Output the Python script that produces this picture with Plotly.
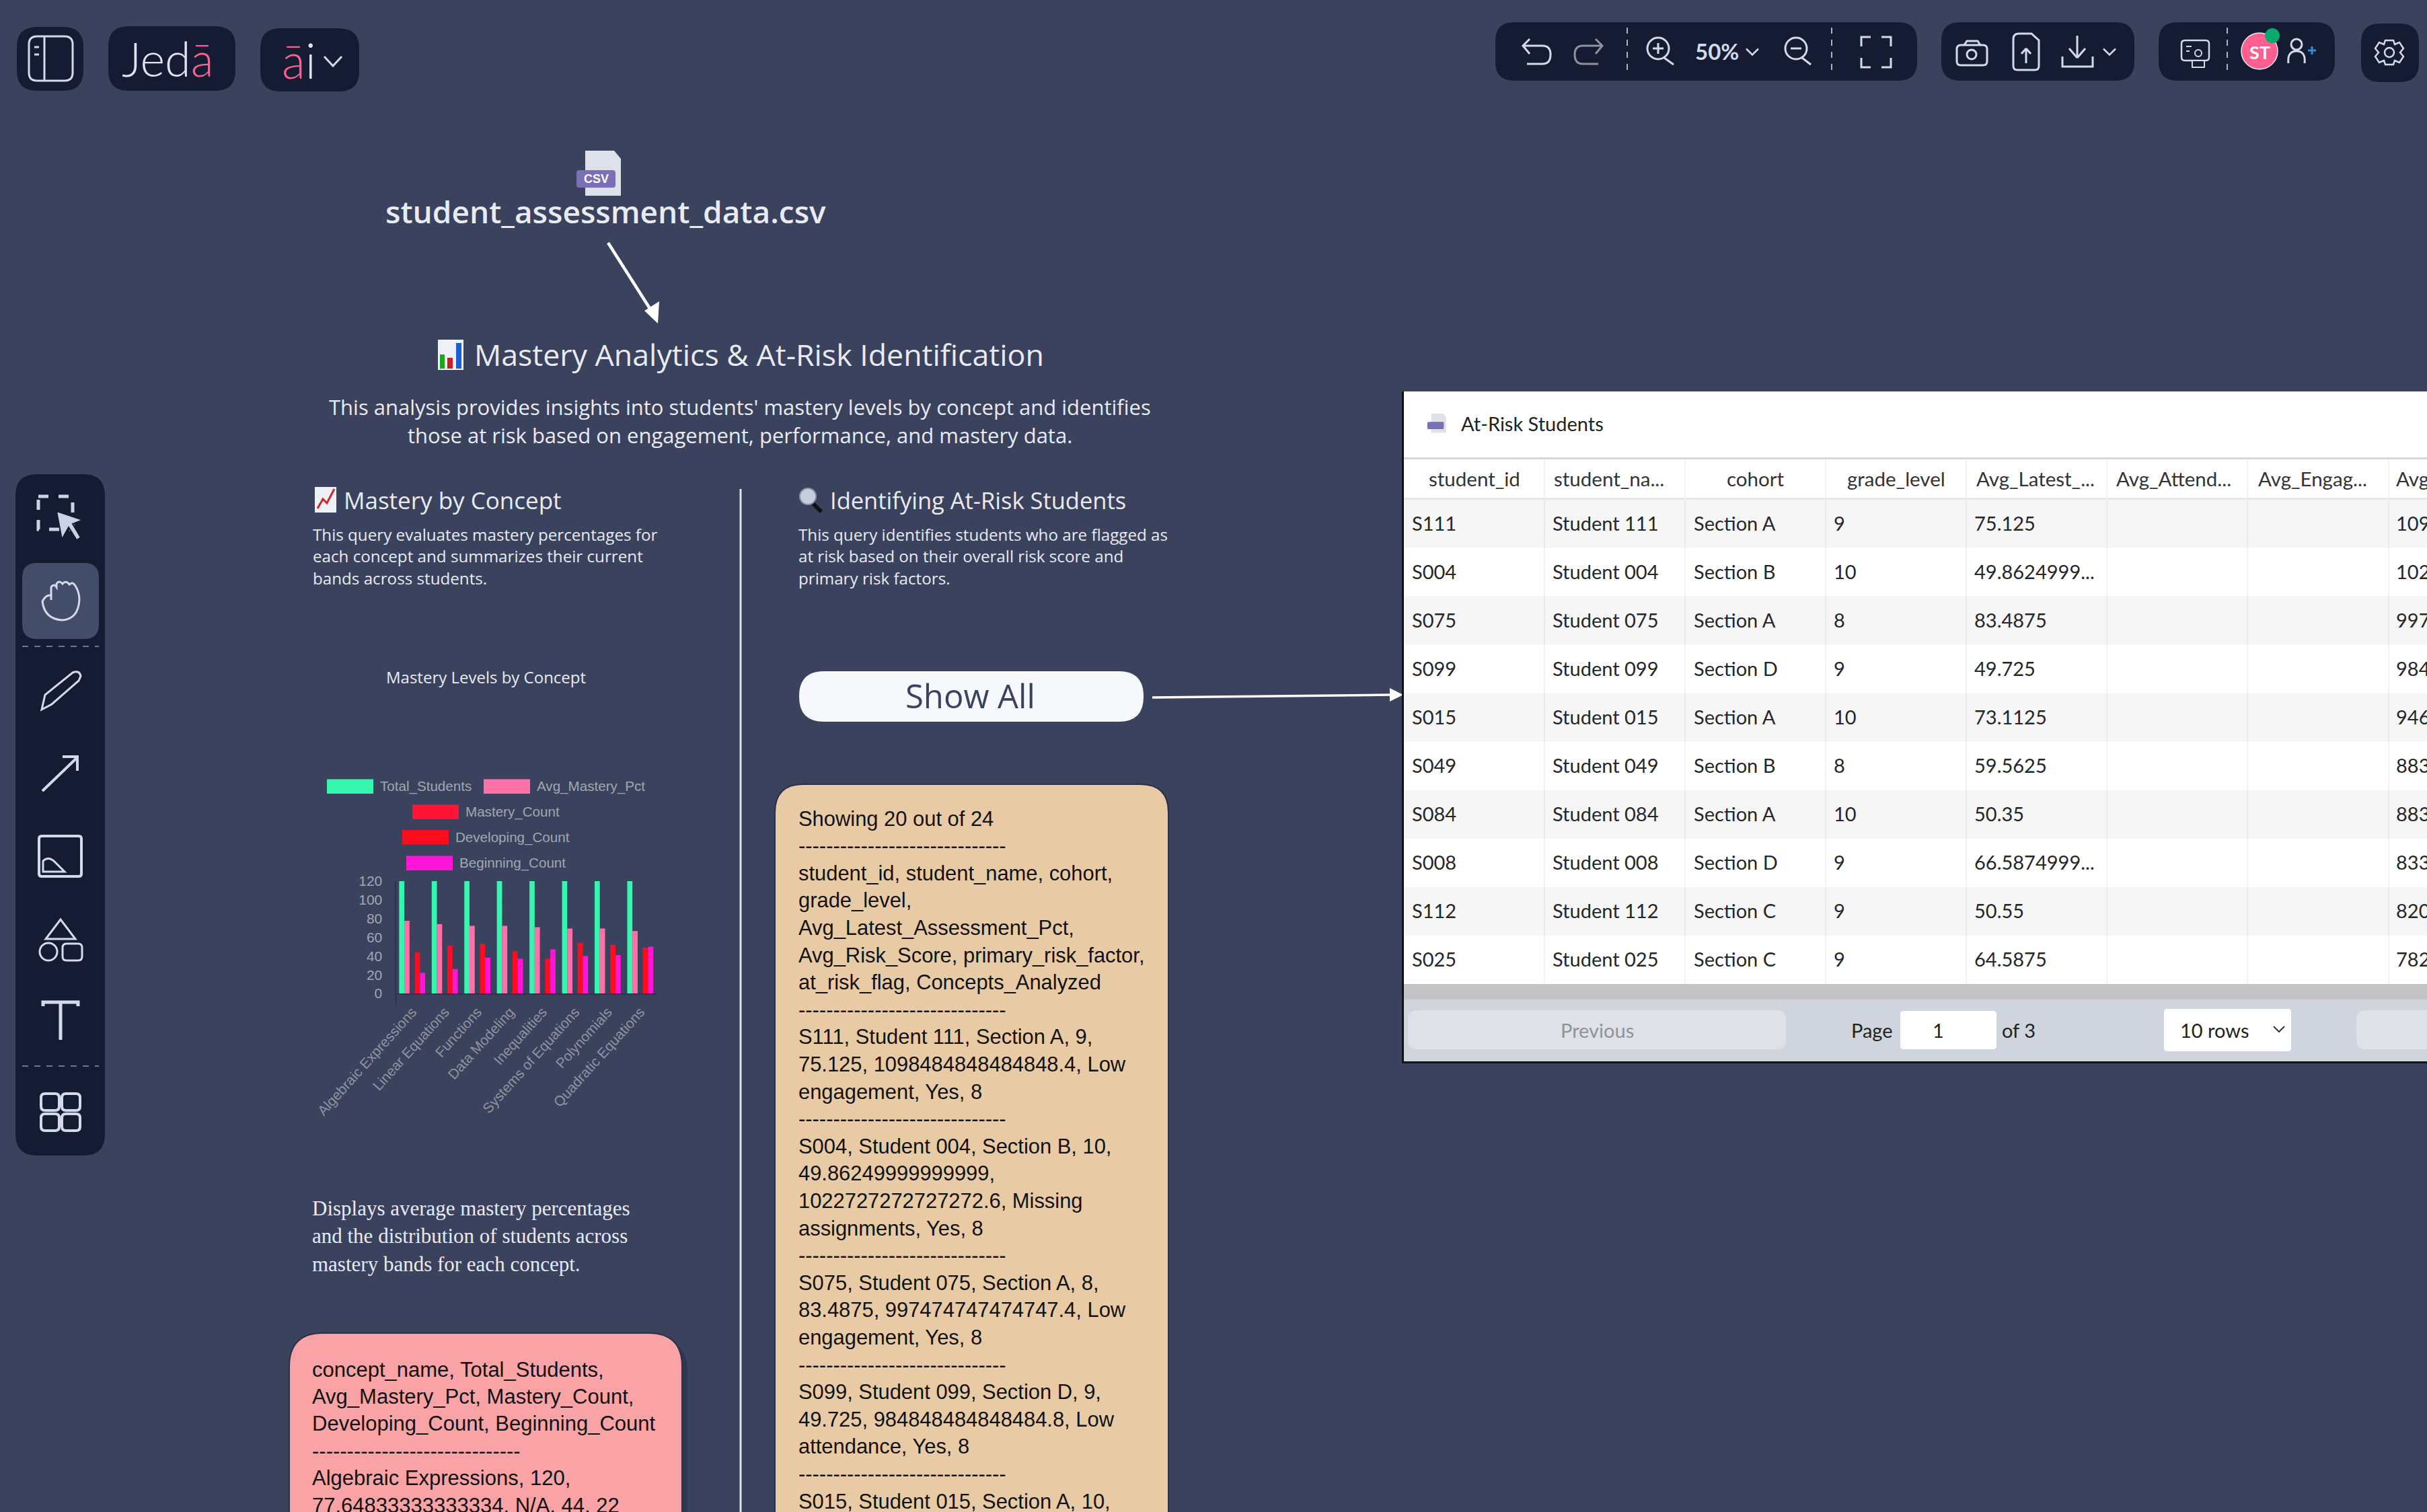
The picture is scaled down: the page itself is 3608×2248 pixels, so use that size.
import plotly.graph_objs as go

W = 3608
H = 2248

BG = "#3a425d"
DARK = "#151b32"
ICON = "#d3daea"

concepts = ["Algebraic Expressions", "Linear Equations", "Functions", "Data Modeling", "Inequalities",
            "Systems of Equations", "Polynomials", "Quadratic Equations"]
total_students = [120, 120, 120, 120, 120, 120, 120, 120]
avg_mastery_pct = [77.65, 74, 72.2, 72.2, 70.8, 69.3, 69.3, 66.7]
mastery_count = [None, None, None, None, None, None, None, None]
developing_count = [44, 51, 53, 45, 37, 54, 52, 49]
beginning_count = [22, 26, 38, 37, 47, 40, 41, 50]

series_names = ["Total_Students", "Avg_Mastery_Pct", "Mastery_Count", "Developing_Count", "Beginning_Count"]
series_colors = ["#36f5ae", "#ff70a8", "#ff1436", "#ff0d1f", "#ff14d8"]

table_headers = ["student_id", "student_na...", "cohort", "grade_level", "Avg_Latest_...", "Avg_Attend...",
                 "Avg_Engag..."]
header_nudge = [0, -9, 0, 0, -2, -5, -8]
student_ids = ["S111", "S004", "S075", "S099", "S015", "S049", "S084", "S008", "S112", "S025"]
student_names = ["Student 111", "Student 004", "Student 075", "Student 099", "Student 015", "Student 049",
                 "Student 084", "Student 008", "Student 112", "Student 025"]
cohorts = ["Section A", "Section B", "Section A", "Section D", "Section A", "Section B", "Section A",
           "Section D", "Section C", "Section C"]
grades = ["9", "10", "8", "9", "10", "8", "10", "9", "9", "9"]
latest_pct = ["75.125", "49.8624999...", "83.4875", "49.725", "73.1125", "59.5625", "50.35", "66.5874999...",
              "50.55", "64.5875"]
risk_clipped = ["109", "102", "997", "984", "946", "883", "883", "833", "820", "782"]

DASHES = "------------------------------"
tan_lines = ["Showing 20 out of 24", DASHES,
             "student_id, student_name, cohort,", "grade_level,", "Avg_Latest_Assessment_Pct,",
             "Avg_Risk_Score, primary_risk_factor,", "at_risk_flag, Concepts_Analyzed", DASHES,
             "S111, Student 111, Section A, 9,", "75.125, 1098484848484848.4, Low", "engagement, Yes, 8", DASHES,
             "S004, Student 004, Section B, 10,", "49.86249999999999,", "1022727272727272.6, Missing",
             "assignments, Yes, 8", DASHES,
             "S075, Student 075, Section A, 8,", "83.4875, 997474747474747.4, Low", "engagement, Yes, 8", DASHES,
             "S099, Student 099, Section D, 9,", "49.725, 984848484848484.8, Low", "attendance, Yes, 8", DASHES,
             "S015, Student 015, Section A, 10,"]
pink_lines = ["concept_name, Total_Students,", "Avg_Mastery_Pct, Mastery_Count,",
              "Developing_Count, Beginning_Count", DASHES, "Algebraic Expressions, 120,",
              "77.64833333333334, N/A, 44, 22"]

shapes = []
annotations = []


def rr(x0, y0, x1, y1, r):
    return (f"M{x0+r},{y0} L{x1-r},{y0} Q{x1},{y0} {x1},{y0+r} L{x1},{y1-r} Q{x1},{y1} {x1-r},{y1} "
            f"L{x0+r},{y1} Q{x0},{y1} {x0},{y1-r} L{x0},{y0+r} Q{x0},{y0} {x0+r},{y0} Z")


def path(d, fill=None, color=None, width=3, dash=None):
    line = dict(color=color or "rgba(0,0,0,0)", width=width if color else 0)
    if dash:
        line["dash"] = dash
    shapes.append(dict(type="path", xref="x2", yref="y2", path=d, fillcolor=fill or "rgba(0,0,0,0)", line=line))


def box(x0, y0, x1, y1, fill, r=0, color=None, width=1):
    if r:
        path(rr(x0, y0, x1, y1, r), fill=fill, color=color, width=width)
    else:
        shapes.append(dict(type="rect", xref="x2", yref="y2", x0=x0, y0=y0, x1=x1, y1=y1, fillcolor=fill,
                           line=dict(color=color or "rgba(0,0,0,0)", width=width if color else 0)))


def seg(x0, y0, x1, y1, color=ICON, width=3, dash=None):
    path(f"M{x0},{y0} L{x1},{y1}", color=color, width=width, dash=dash)


def circle(cx, cy, r, fill=None, color=None, width=3):
    shapes.append(dict(type="circle", xref="x2", yref="y2", x0=cx - r, y0=cy - r, x1=cx + r, y1=cy + r,
                       fillcolor=fill or "rgba(0,0,0,0)",
                       line=dict(color=color or "rgba(0,0,0,0)", width=width if color else 0)))


def text(x, y, s, size, color="#e8ebf2", family="Open Sans", anchor="left", weight=None):
    font = dict(size=size, color=color, family=family)
    if weight:
        font["weight"] = weight
    annotations.append(dict(x=x, y=y, xref="x2", yref="y2", text=s, showarrow=False, xanchor=anchor,
                            yanchor="middle", font=font, borderpad=0, align=anchor))


def chevron(cx, cy, w=9, h=9, color=ICON, width=2.5):
    path(f"M{cx-w},{cy-h/2} L{cx},{cy+h/2} L{cx+w},{cy-h/2}", color=color, width=width)


def csv_icon(x0, y0, s):
    path(f"M{x0+13*s},{y0} L{x0+56*s},{y0} L{x0+66*s},{y0+12*s} L{x0+66*s},{y0+67*s} L{x0+13*s},{y0+67*s} Z",
         fill="#dde1ea")
    box(x0, y0 + 29 * s, x0 + 58 * s, y0 + 55 * s, "#7b6fb5", r=4 * s)


# top left buttons
box(25, 40, 124, 135, DARK, r=30)
box(161, 39, 350, 135, DARK, r=30)
box(387, 42, 534, 136, DARK, r=30)
box(43, 54, 108, 120, None, r=12, color=ICON, width=3)
seg(66, 54, 66, 120)
seg(51, 70, 58, 70)
seg(51, 81, 58, 81)
text(180, 87, "Jed<span style='color:#ff5f8f'>ā</span>", 70, color="#dfe4ee", family="Lato", weight=300)
text(418, 89, "<span style='color:#ff5f8f'>ā</span>i", 72, color="#dfe4ee", family="Lato", weight=300)
chevron(495, 91, w=13, h=14, width=3)

# top right panels
box(2223, 33, 2850, 120, DARK, r=28)
box(2886, 33, 3173, 120, DARK, r=28)
box(3209, 33, 3471, 120, DARK, r=28)
box(3510, 35, 3596, 122, DARK, r=28)
for sx in [2419, 2723, 3311]:
    seg(sx, 41, sx, 113, color="#aab2c4", width=2, dash="dash")
path("M2274,58 L2264,68 L2274,80 M2264,68 L2293,68 Q2305,68 2305,81 Q2305,95 2293,95 L2270,95", color=ICON)
path("M2372,58 L2382,68 L2372,80 M2382,68 L2353,68 Q2341,68 2341,81 Q2341,95 2353,95 L2376,95", color="#8d929c")
circle(2465, 72, 16, color=ICON)
seg(2457, 72, 2473, 72)
seg(2465, 64, 2465, 80)
seg(2474, 86, 2488, 96)
text(2552, 76, "50%", 33, color=ICON, family="Lato", anchor="center", weight=700)
chevron(2605, 77)
circle(2670, 72, 16, color=ICON)
seg(2662, 72, 2678, 72)
seg(2679, 86, 2692, 96)
path("M2767,69 L2767,55 L2781,55 M2797,55 L2811,55 L2811,69 M2811,86 L2811,100 L2797,100 M2781,100 L2767,100 L2767,86",
     color=ICON)
path(rr(2909, 67, 2954, 97, 6), color=ICON)
path("M2920,67 L2924,61 L2940,61 L2944,67", color=ICON)
circle(2931, 81, 7, color=ICON)
path("M2993,58 Q2993,50 3001,50 L3020,50 L3031,60 L3031,98 Q3031,104 3025,104 L2999,104 Q2993,104 2993,98 Z",
     color=ICON)
path("M3012,94 L3012,72 M3005,80 L3012,72 M3019,80 L3012,72", color=ICON)
path("M3088,53 L3088,86 M3076,72 L3088,86 M3100,72 L3088,86", color=ICON)
path("M3066,84 L3066,99 L3111,99 L3111,84", color=ICON)
chevron(3136, 77)
path(rr(3243, 60, 3284, 90, 5), color=ICON, width=2.5)
circle(3268, 79, 5, color=ICON, width=2)
path("M3259,100 L3259,90 L3277,90 L3277,100 Z", fill=DARK, color=ICON, width=2)
seg(3250, 69, 3258, 69, width=2)
seg(3250, 76, 3255, 76, width=2)
circle(3359, 76, 27, fill="#fe5f8e", color="#e8ebf2", width=1.5)
text(3359, 77, "ST", 27, color="#ffffff", family="Lato", anchor="center", weight=700)
circle(3378, 53, 11, fill="#0aa96e")
circle(3414, 66, 8, color=ICON)
path("M3402,94 Q3400,76 3414,76 Q3428,76 3426,94", color=ICON)
seg(3431, 75, 3443, 75, color="#2f8fd8")
seg(3437, 69, 3437, 81, color="#2f8fd8")
path("M3546,60 L3558,60 L3560,66 L3567,63 L3573,72 L3568,78 L3573,84 L3567,93 L3560,90 L3558,96 L3546,96 "
     "L3544,90 L3537,93 L3531,84 L3536,78 L3531,72 L3537,63 L3544,66 Z", color=ICON, width=2.5)
circle(3552, 78, 7, color=ICON, width=2.5)

# left tool bar
box(23, 705, 156, 1718, DARK, r=32)
box(33, 837, 147, 950, "#434c68", r=22)
seg(33, 961, 147, 961, color="#6f7790", width=2, dash="dash")
seg(33, 1585, 147, 1585, color="#6f7790", width=2, dash="dash")
path("M57,738 L108,738 L108,787 L57,787 Z", color="#c9d3e6", width=5, dash="dash")
path("M84,760 L123,773 L108,779 L120,799 L114,803 L102,784 L92,802 Z", fill="#c9d3e6", color=DARK, width=2)
path("M76,885 L76,873 Q80,867 84,873 L84,868 Q88,862 93,868 Q98,862 103,869 Q108,864 112,871 Q118,880 118,892 "
     "Q116,921 92,922 Q66,920 63,894 Q68,884 76,885 L76,892", color=ICON)
path("M62,1055 L67,1033 L108,1000 Q118,996 120,1005 L117,1012 L77,1047 Z", color=ICON)
path("M63,1176 L115,1126 M93,1125 L115,1125 L115,1146", color=ICON, width=4)
path(rr(58, 1243, 121, 1303, 4), color=ICON, width=4)
path("M64,1296 L64,1280 Q72,1272 82,1282 L96,1296 Z", color=ICON, width=3)
path("M90,1367 L112,1396 L68,1396 Z", color=ICON)
circle(72, 1415, 13, color=ICON)
path(rr(93, 1403, 122, 1428, 6), color=ICON)
path("M64,1496 L64,1490 L116,1490 L116,1496 M90,1490 L90,1546", color=ICON, width=5)
for gx, gy in [(61, 1626), (92, 1626), (61, 1656), (92, 1656)]:
    path(rr(gx, gy, gx + 27, gy + 25, 6), color=ICON, width=4)

# file node and first arrow
csv_icon(857, 224, 1)
text(886, 266, "CSV", 18, color="#ffffff", family="Liberation Sans", anchor="center", weight=700)
text(900, 314, "student_assessment_data.csv", 46, weight=600, anchor="center")
seg(904, 361, 972, 468, color="#ffffff", width=4.5)
path("M978,481 L958,462 L980,448 Z", fill="#ffffff")

# report heading
box(651, 505, 689, 550, "#eef1f6")
box(654, 527, 661, 548, "#1ea51e")
box(665, 532, 673, 548, "#c81e1e")
box(678, 510, 686, 548, "#1e5fd0")
text(704, 526, "Mastery Analytics &amp; At-Risk Identification", 44.7)
text(1100, 605, "This analysis provides insights into students' mastery levels by concept and identifies", 31,
     anchor="center")
text(1100, 647, "those at risk based on engagement, performance, and mastery data.", 31, anchor="center")

# left column heading
box(468, 724, 500, 762, "#eef1f6")
path("M472,756 L480,742 L486,748 L497,727", color="#d02828", width=3)
text(510, 743, "Mastery by Concept", 35)
for i, s in enumerate(["This query evaluates mastery percentages for", "each concept and summarizes their current",
                       "bands across students."]):
    text(464, 794 + 32.5 * i, s, 24.2)
seg(1101, 727, 1101, 2248, color="#dfe3ea", width=3)

# right column heading
circle(1201, 738, 12, fill="#c6cedd", color="#8d94a5", width=2)
seg(1209, 749, 1221, 761, color="#111111", width=6)
text(1233, 743, "Identifying At-Risk Students", 34.5)
for i, s in enumerate(["This query identifies students who are flagged as", "at risk based on their overall risk score and",
                       "primary risk factors."]):
    text(1186, 794 + 32.5 * i, s, 24.2)
text(722, 1006, "Mastery Levels by Concept", 24, anchor="center")

# button and arrow to the table
box(1188, 998, 1700, 1073, "#f6f8fc", r=37)
text(1442, 1034, "Show All", 49, color="#39425e", anchor="center")
seg(1713, 1037, 2068, 1033, color="#ffffff", width=3.5)
path("M2086,1033 L2066,1023 L2066,1043 Z", fill="#ffffff")

# chart legend, wrapped the way the source chart does it
legend_rows = [(486, 1158.6, 0), (719, 1158.6, 1), (613, 1196.4, 2), (598, 1234, 3), (604, 1272.5, 4)]
for lx, ly, k in legend_rows:
    box(lx, ly, lx + 69, ly + 21.5, series_colors[k])
    text(lx + 78, ly + 10.5, series_names[k], 20.6, color="#a3a7b2", family="Liberation Sans")

# chart axis foot
seg(588.5, 1477, 588.5, 1495, color="#2c3350", width=2)

# note under the chart
for i, s in enumerate(["Displays average mastery percentages", "and the distribution of students across",
                       "mastery bands for each concept."]):
    text(463, 1796 + 41.5 * i, s, 31, color="#e6eaf5", family="Liberation Serif")

# pink result card
box(438, 1990, 1022, 2300, "#2f3650", r=50)
box(430, 1982, 1014, 2300, "#f9a3a6", r=50, color="#2b3148", width=2)
for i, s in enumerate(pink_lines):
    text(463, 2036 + 40.4 * i, s, 31, color="#111111", family="Liberation Sans")

# tan result card
box(1152, 1166, 1737, 2300, "#e8cba5", r=42, color="#2b3148", width=2)
for i, s in enumerate(tan_lines):
    text(1186, 1217 + 40.6 * i, s, 30.9, color="#111111", family="Liberation Sans")

# at-risk table
box(2085, 582, 3608, 1580, "#ffffff")
csv_icon(2122, 615, 0.42)
text(2171, 629, "At-Risk Students", 29, color="#222222", family="Lato")
box(2085, 680, 3608, 683, "#d5d7dc")
box(2085, 740, 3608, 743, "#e7e8ea")
col_edges = [2087, 2296, 2505, 2714, 2923, 3132, 3341, 3551]
for edge in col_edges[1:]:
    seg(edge, 683, edge, 1463, color="#efeff1", width=1.5)
row_top = 742.4
row_step = 72.06
for r in range(10):
    if r % 2 == 0:
        box(2087, row_top + r * row_step, 3608, row_top + (r + 1) * row_step, "rgba(100,100,110,0.06)")
for c, name in enumerate(table_headers):
    text((col_edges[c] + col_edges[c + 1]) / 2 + header_nudge[c], 711, name, 29.5, color="#333333", family="Lato",
         anchor="center")
text(3561, 711, "Avg", 29.5, color="#333333", family="Lato")
cell_x = [2098, 2307, 2517, 2725, 2934]
cell_cols = [student_ids, student_names, cohorts, grades, latest_pct]
for cx, col in zip(cell_x, cell_cols):
    for r, val in enumerate(col):
        text(cx, row_top + (r + 0.5) * row_step - 1, val, 29, color="#262626", family="Lato")
for r, val in enumerate(risk_clipped):
    text(3561, row_top + (r + 0.5) * row_step - 1, val, 29, color="#262626", family="Lato")
box(2087, 1463, 3608, 1486, "#c4c2c4")
box(2087, 1486, 3608, 1580, "#d0d4dc")
box(2085, 1578, 3608, 1581, "#11131c")
box(2084, 582, 2087, 1581, "#11131c")
box(2093, 1502, 2655, 1560, "#dee2e8", r=14)
text(2374, 1531, "Previous", 29, color="#8d929c", family="Lato", anchor="center")
text(2751, 1531, "Page", 29, color="#222222", family="Lato")
box(2825, 1503, 2968, 1560, "#ffffff", r=5)
text(2881, 1531, "1", 29, color="#222222", family="Lato", anchor="center")
text(2975, 1531, "of 3", 29, color="#222222", family="Lato")
box(3217, 1500, 3406, 1563, "#ffffff", r=5)
text(3240, 1531, "10 rows", 29, color="#222222", family="Lato")
chevron(3388, 1530, w=8, h=8, color="#333333", width=2)
box(3503, 1502, 3650, 1560, "#dee2e8", r=14)

fig = go.Figure()
for name, values, color in zip(series_names,
                               [total_students, avg_mastery_pct, mastery_count, developing_count, beginning_count],
                               series_colors):
    fig.add_trace(go.Bar(name=name, x=concepts, y=values, marker=dict(color=color, line=dict(width=0)),
                         xaxis="x", yaxis="y", showlegend=False))

# invisible trace that keeps the page-pixel axes alive for the shapes and texts
fig.add_trace(go.Scatter(x=[0], y=[0], xaxis="x2", yaxis="y2", mode="markers", marker=dict(opacity=0),
                         showlegend=False, hoverinfo="skip"))

tick_font = dict(size=21, color="#a3a7b2", family="Liberation Sans")
fig.update_layout(
    width=W, height=H, margin=dict(l=0, r=0, t=0, b=0, pad=0, autoexpand=False),
    paper_bgcolor=BG, plot_bgcolor="rgba(0,0,0,0)", showlegend=False, hovermode=False,
    barmode="group", bargap=0.2, bargroupgap=0,
    xaxis=dict(domain=[588.5 / W, 976 / W], anchor="y", tickangle=-48, tickfont=dict(tick_font, color="#8f94a2"),
               showgrid=False, showline=True, linecolor="#2c3350", linewidth=2, ticks="", ticklabelstandoff=5,
               automargin=False, zeroline=False, categoryorder="array", categoryarray=concepts),
    yaxis=dict(domain=[1 - 1477 / H, 1 - 1310 / H], anchor="x", range=[0, 120], dtick=20, tickfont=tick_font,
               showgrid=True, gridcolor="#363e59", gridwidth=1, showline=True, linecolor="#2c3350", linewidth=2,
               ticks="", ticklabelstandoff=14, automargin=False, zeroline=False),
    xaxis2=dict(domain=[0, 1], anchor="y2", range=[0, W], visible=False, fixedrange=True),
    yaxis2=dict(domain=[0, 1], anchor="x2", range=[H, 0], visible=False, fixedrange=True),
    shapes=shapes, annotations=annotations,
)

fig.write_html("out.html", config={"displayModeBar": False},
               post_script="document.body.style.margin='0';document.body.style.overflow='hidden';")
